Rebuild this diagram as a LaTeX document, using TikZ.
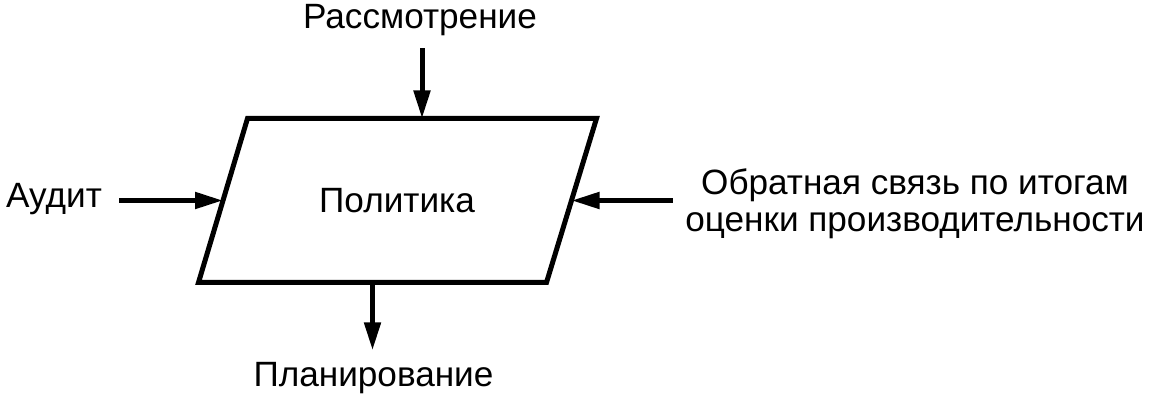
\documentclass[tikz,border=0pt]{standalone}
\usepackage{fontspec}
\setmainfont{Liberation Sans}
\usetikzlibrary{arrows.meta,calc}

\begin{document}
\begin{tikzpicture}[
    line width=0.1cm,
    arr/.style={-{Triangle[length=0.56cm, width=0.32cm]}},
    lbl/.style={inner sep=0.2cm, font=\fontsize{20}{21}\selectfont},
  ]
  \useasboundingbox (0,0) rectangle (23,8);

  % box
  \coordinate (tl) at (4.95, 5.63);
  \coordinate (tr) at (11.93, 5.63);
  \coordinate (br) at (10.93, 2.35);
  \coordinate (bl) at (3.97, 2.35);
  \draw[line join=miter] (tl) -- (tr) -- (br) -- (bl) -- cycle;
  \node[lbl, anchor=base] (pol) at (7.94, 3.74) {Политика};

  % side midpoints
  \coordinate (tm) at ($(tl)!0.5!(tr)$);
  \coordinate (bm) at ($(bl)!0.5!(br)$);
  \coordinate (lm) at ($(tl)!0.5!(bl)$);
  \coordinate (rm) at ($(tr)!0.5!(br)$);

  % labels
  \node[lbl, anchor=base] (rev) at (8.4, 7.43) {Рассмотрение};
  \node[lbl, anchor=base] (aud) at (1.08, 3.84) {Аудит};
  \node[lbl, align=center] (fb) at (18.3, 3.93)
    {Обратная связь по итогам\\оценки производительности};
  \node[lbl, anchor=base] (plan) at (7.47, 0.26) {Планирование};

  % arrows
  \draw[arr] (rev.south -| tm) -- (tm);
  \draw[arr] (aud.east |- lm) ++(0.1,0) -- (lm);
  \draw[arr] (fb.west |- rm) -- (rm);
  \draw[arr] (bm) -- (plan.north -| bm);
\end{tikzpicture}
\end{document}
